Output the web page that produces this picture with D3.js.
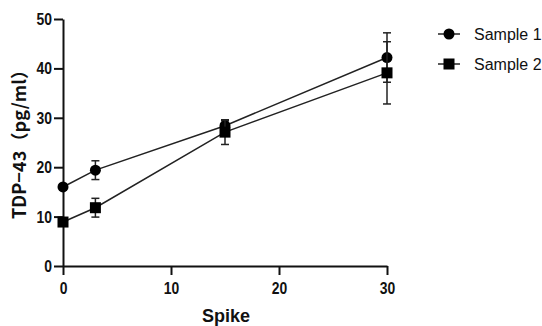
<!DOCTYPE html>
<html>
<head>
<meta charset="utf-8">
<script src="https://cdn.jsdelivr.net/npm/d3@7"></script>
<style>
  body { margin: 0; background: #fff; }
  text { font-family: "Liberation Sans", Arial, sans-serif; }
</style>
</head>
<body>
<div id="chart"></div>
<script>
// data
const spikes = [0, 3, 15, 30];
const sample1 = [16.0, 19.4, 28.4, 42.2];
const sample1Err = [0.6, 1.9, 1.0, 5.0];
const sample2 = [8.9, 11.8, 27.1, 39.1];
const sample2Err = [0.6, 1.9, 2.5, 6.3];
const xTicks = [0, 10, 20, 30];
const yTicks = [0, 10, 20, 30, 40, 50];

const width = 542, height = 326;
const narrow = 0.82; // tick labels are a condensed face

const svg = d3.select("#chart").append("svg")
    .attr("width", width)
    .attr("height", height);

const x = d3.scaleLinear().domain([0, 30]).range([63, 387]);
const y = d3.scaleLinear().domain([0, 50]).range([266, 19]);

// axes
const xAxis = svg.append("g")
    .attr("transform", `translate(0, ${y(0)})`)
    .call(d3.axisBottom(x).tickValues(xTicks).tickSize(9).tickSizeOuter(0));
const yAxis = svg.append("g")
    .attr("transform", `translate(${x(0)}, 0)`)
    .call(d3.axisLeft(y).tickValues(yTicks).tickSize(9).tickSizeOuter(0));

[xAxis, yAxis].forEach(g => {
    g.select(".domain").attr("stroke", "#111").attr("stroke-width", 2);
    g.selectAll(".tick line").attr("stroke", "#111").attr("stroke-width", 2);
    g.selectAll(".tick text")
        .attr("fill", "#111")
        .attr("transform", `scale(${narrow}, 1)`)
        .style("font-size", "17px")
        .style("font-weight", "bold");
});
xAxis.selectAll(".tick text").attr("y", 12).attr("dy", "0.95em");
yAxis.selectAll(".tick text").attr("x", -11 / narrow);

// axis titles
svg.append("text")
    .attr("x", 226)
    .attr("y", 322)
    .attr("text-anchor", "middle")
    .style("font-size", "18px")
    .style("font-weight", "bold")
    .attr("fill", "#111")
    .text("Spike");

svg.append("text")
    .attr("transform", `translate(26, 140) rotate(-90)`)
    .attr("text-anchor", "middle")
    .attr("textLength", 158)
    .attr("lengthAdjust", "spacing")
    .style("font-family", "'Noto Sans CJK JP', 'Liberation Sans', sans-serif")
    .style("font-size", "18px")
    .style("font-weight", "bold")
    .attr("fill", "#111")
    .text("TDP−43（pg/ml）");

const series = [
    { name: "Sample 1", values: sample1, errs: sample1Err, shape: "circle" },
    { name: "Sample 2", values: sample2, errs: sample2Err, shape: "square" }
];

const line = d3.line()
    .x(d => x(d[0]))
    .y(d => y(d[1]));

function drawMarker(g, shape, cx, cy) {
    if (shape === "circle") {
        g.append("circle").attr("cx", cx).attr("cy", cy).attr("r", 5.5).attr("fill", "#000");
    } else {
        g.append("rect").attr("x", cx - 5.5).attr("y", cy - 5.5)
            .attr("width", 11).attr("height", 11).attr("fill", "#000");
    }
}

series.forEach(s => {
    const pts = spikes.map((v, i) => [v, s.values[i], s.errs[i]]);
    const g = svg.append("g");

    // error bars
    pts.forEach(p => {
        const cx = x(p[0]);
        g.append("line")
            .attr("x1", cx).attr("x2", cx)
            .attr("y1", y(p[1] - p[2])).attr("y2", y(p[1] + p[2]))
            .attr("stroke", "#222").attr("stroke-width", 1.5);
        [p[1] - p[2], p[1] + p[2]].forEach(v => {
            g.append("line")
                .attr("x1", cx - 4).attr("x2", cx + 4)
                .attr("y1", y(v)).attr("y2", y(v))
                .attr("stroke", "#222").attr("stroke-width", 1.5);
        });
    });

    g.append("path")
        .datum(pts)
        .attr("d", line)
        .attr("fill", "none")
        .attr("stroke", "#222")
        .attr("stroke-width", 1.5);

    pts.forEach(p => drawMarker(g, s.shape, x(p[0]), y(p[1])));
});

// legend
const legend = svg.append("g");
series.forEach((s, i) => {
    const ly = 34 + i * 30;
    legend.append("line")
        .attr("x1", 438).attr("x2", 460)
        .attr("y1", ly).attr("y2", ly)
        .attr("stroke", "#222").attr("stroke-width", 1.5);
    drawMarker(legend, s.shape, 449, ly);
    legend.append("text")
        .attr("x", 474)
        .attr("y", ly)
        .attr("dy", "0.36em")
        .style("font-size", "16px")
        .attr("fill", "#111")
        .text(s.name);
});
</script>
</body>
</html>
